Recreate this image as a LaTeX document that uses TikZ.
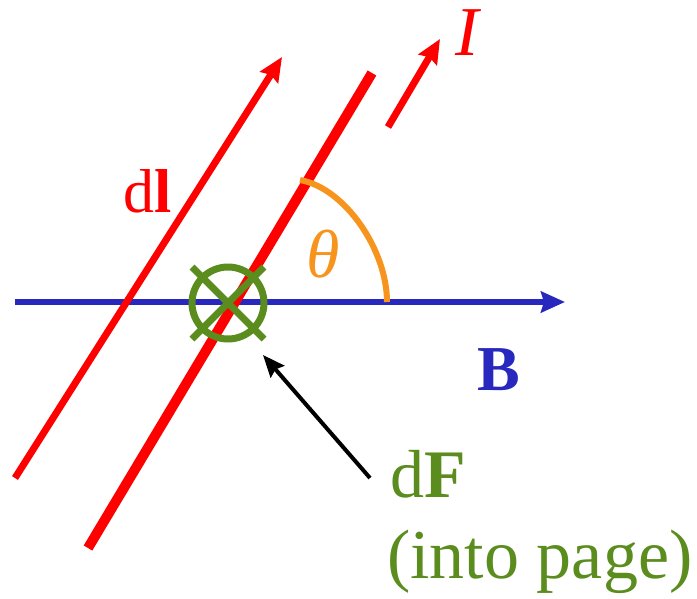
\documentclass[tikz,border=0pt]{standalone}
\usepackage{fontspec}
\setmainfont{Liberation Serif}
\usetikzlibrary{arrows.meta}
\definecolor{fieldblue}{RGB}{40,40,190}
\definecolor{forcegreen}{RGB}{90,140,30}
\definecolor{angleorange}{RGB}{247,148,29}

\begin{document}
\begin{tikzpicture}[x=1pt, y=-1pt,
  tip/.style={-{Stealth[length=24pt,width=21pt,inset=3pt]}},
  lbl/.style={inner sep=0pt, anchor=base west}]
\useasboundingbox (0,0) rectangle (697,598);
% field B
\coordinate (b0) at (15,302);
\coordinate (b1) at (565,302);
\draw[fieldblue, line width=6pt, tip] (b0) -- (b1);
% wire and current elements
\coordinate (w0) at (88,548);
\coordinate (w1) at (372,73);
\draw[red, line width=10pt] (w0) -- (w1);
\coordinate (l0) at (15,478);
\coordinate (l1) at (282,57);
\draw[red, line width=7pt, tip] (l0) -- (l1);
\coordinate (i0) at (388,127);
\coordinate (i1) at (440,39);
\draw[red, line width=7pt, tip] (i0) -- (i1);
% angle
\coordinate (a0) at (300,180);
\coordinate (a1) at (387,302);
\draw[angleorange, line width=6pt] (a0) .. controls (345,188) and (387,250) .. (a1);
% dF into page
\coordinate (f) at (228,303);
\draw[forcegreen, line width=7pt] (f) circle (36);
\draw[forcegreen, line width=7pt] (192,267) -- (264,339);
\draw[forcegreen, line width=7pt] (192,339) -- (264,267);
\coordinate (p0) at (370,478);
\coordinate (p1) at (263,355);
\draw[black, line width=4pt, -{Stealth[length=22pt,width=18pt,inset=3pt]}] (p0) -- (p1);
% labels
\node[lbl, red] (I) at (455,55) {\fontsize{70}{70}\selectfont\textit{I}};
\node[lbl, red] (dl) at (123,212) {\fontsize{62}{62}\selectfont d\textbf{l}};
\node[lbl, angleorange] (th) at (306,277) {\fontsize{68}{68}\selectfont\textit{θ}};
\node[lbl, fieldblue] (B) at (477,390) {\fontsize{64}{64}\selectfont\textbf{B}};
\node[lbl, forcegreen] (dF) at (390,497) {\fontsize{68}{68}\selectfont d\textbf{F}};
\node[lbl, forcegreen] (page) at (387,578) {\fontsize{70}{70}\selectfont (into page)};
\end{tikzpicture}
\end{document}
